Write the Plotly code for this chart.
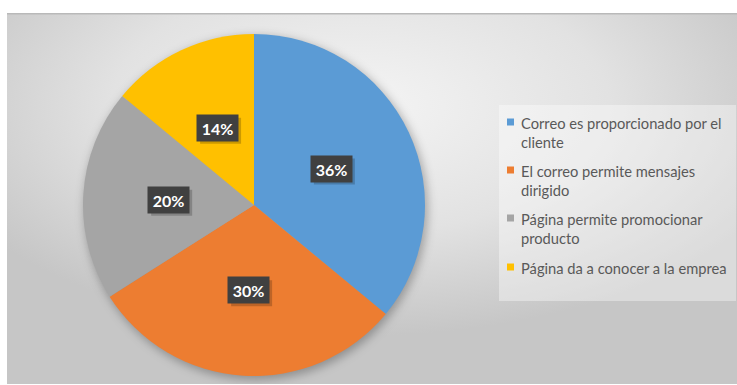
import math
import urllib.parse
import plotly.graph_objects as go

# Survey shares per reason
categories = [
    "Correo es proporcionado por el cliente",
    "El correo permite mensajes dirigido",
    "Página permite promocionar producto",
    "Página da a conocer a la emprea",
]
legend_lines = [
    "Correo es proporcionado por el<br>cliente",
    "El correo permite mensajes<br>dirigido",
    "Página permite promocionar<br>producto",
    "Página da a conocer a la emprea",
]
values = [36, 30, 20, 14]
colors = ["#5B9BD5", "#ED7D31", "#A5A5A5", "#FFC000"]

W, H = 737, 385
ML, MT, MB = 7, 13, 1
PW, PH = W - ML, H - MT - MB


def px_x(px):
    return (px - ML) / PW


def px_y(py):
    return (H - MB - py) / PH


# pie geometry (pixels)
CX, CY, R = 254, 205, 171

# chart background: soft radial gradient, top rule and pie drop shadow
svg = f"""<svg xmlns='http://www.w3.org/2000/svg' width='{PW}' height='{PH}' viewBox='0 0 {PW} {PH}'>
<defs>
<radialGradient id='g' cx='{(360-ML)/PW:.3f}' cy='0.25' r='0.62' gradientUnits='objectBoundingBox'>
<stop offset='0' stop-color='#f4f4f4'/>
<stop offset='0.55' stop-color='#e2e2e2'/>
<stop offset='1' stop-color='#c6c6c6'/>
</radialGradient>
<filter id='b' x='-20%' y='-20%' width='140%' height='140%'><feGaussianBlur stdDeviation='5'/></filter>
</defs>
<rect x='0' y='0' width='{PW}' height='{PH}' fill='url(#g)'/>
<rect x='0' y='0' width='{PW}' height='1.5' fill='#b9b9b9'/>
<circle cx='{CX-ML+2}' cy='{CY-MT+3}' r='{R+1}' fill='#000' fill-opacity='0.28' filter='url(#b)'/>
</svg>"""
bg_uri = "data:image/svg+xml;charset=utf-8," + urllib.parse.quote(svg)

fig = go.Figure()
fig.add_trace(go.Pie(
    labels=categories,
    values=values,
    sort=False,
    direction="clockwise",
    rotation=0,
    marker=dict(colors=colors, line=dict(width=0)),
    textinfo="none",
    hoverinfo="label+percent",
    showlegend=False,
    domain=dict(x=[px_x(CX - R), px_x(CX + R)], y=[px_y(CY + R), px_y(CY - R)]),
))

annotations = []
shapes = []
label_font = "Lato, Open Sans, sans-serif"

# percentage labels placed at half radius along each slice's mid-angle
BOX_W, BOX_H = 41, 26
total = sum(values)
cum = 0
for v in values:
    mid = (cum + v / 2) / total * 2 * math.pi
    cum += v
    lx = CX + 0.5 * R * math.sin(mid)
    ly = CY - 0.5 * R * math.cos(mid)
    # soft shadow under the label box
    shapes.append(dict(
        type="rect", xref="paper", yref="paper",
        x0=px_x(lx - BOX_W / 2 + 3), x1=px_x(lx + BOX_W / 2 + 3),
        y0=px_y(ly + BOX_H / 2 + 3), y1=px_y(ly - BOX_H / 2 + 3),
        fillcolor="rgba(0,0,0,0.2)", line=dict(width=0),
    ))
    annotations.append(dict(
        x=px_x(lx), y=px_y(ly), xref="paper", yref="paper",
        xanchor="center", yanchor="middle",
        width=BOX_W - 2, height=BOX_H - 2,
        text=f"<b>{round(v / total * 100)}%</b>", showarrow=False,
        font=dict(family=label_font, size=16, color="#FFFFFF"),
        bgcolor="#404040", borderpad=1,
    ))

# legend panel
LX0, LY0, LX1, LY1 = 499, 105, 736, 301
shapes.append(dict(
    type="rect", xref="paper", yref="paper",
    x0=px_x(LX0), x1=px_x(LX1), y0=px_y(LY1), y1=px_y(LY0),
    fillcolor="rgba(255,255,255,0.38)", line=dict(width=0), layer="below",
))

first_line_y = [122, 170, 218, 267]
for name, col, yy in zip(legend_lines, colors, first_line_y):
    shapes.append(dict(
        type="rect", xref="paper", yref="paper",
        x0=px_x(507), x1=px_x(514), y0=px_y(yy + 3.5), y1=px_y(yy - 3.5),
        fillcolor=col, line=dict(width=0),
    ))
    annotations.append(dict(
        x=px_x(519), y=px_y(yy - 10.5), xref="paper", yref="paper",
        xanchor="left", yanchor="top", align="left",
        text=name, showarrow=False,
        font=dict(family=label_font, size=14.7, color="#595959"),
    ))

fig.update_layout(
    width=W, height=H,
    margin=dict(l=ML, r=0, t=MT, b=MB, pad=0),
    paper_bgcolor="#FFFFFF",
    plot_bgcolor="rgba(0,0,0,0)",
    images=[dict(
        source=bg_uri, xref="paper", yref="paper",
        x=0, y=1, sizex=1, sizey=1, xanchor="left", yanchor="top",
        sizing="stretch", layer="below",
    )],
    annotations=annotations,
    shapes=shapes,
)

fig.write_html("out.html")
